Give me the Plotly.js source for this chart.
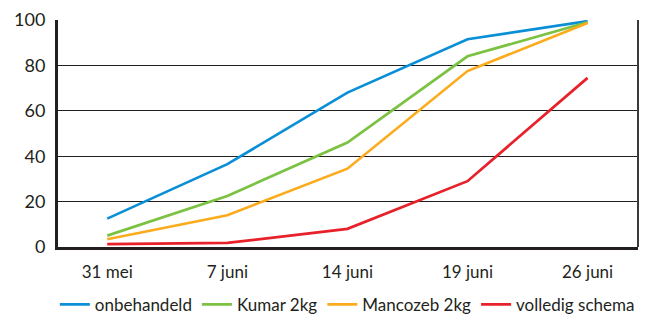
<!DOCTYPE html>
<html>
<head>
<meta charset="utf-8">
<script src="https://cdn.plot.ly/plotly-3.0.1.min.js"></script>
<style>html,body{margin:0;padding:0;background:#fff;}#chart{width:648px;height:315px;}</style>
</head>
<body>
<div id="chart"></div>
<script>
const categories = ["31 mei", "7 juni", "14 juni", "19 juni", "26 juni"];
const seriesNames = ["onbehandeld", "Kumar 2kg", "Mancozeb 2kg", "volledig schema"];
const onbehandeld = [12.5, 36.5, 68, 91.5, 99.5];
const kumar = [5, 22.5, 46, 84, 99];
const mancozeb = [3.4, 14, 34.5, 77.5, 98.7];
const volledig = [1.3, 1.8, 8, 29, 74.5];
const yTicks = [0, 20, 40, 60, 80, 100];
const colors = ["#0a8fd6", "#7cc242", "#fbab1c", "#e8202a"];

const values = [onbehandeld, kumar, mancozeb, volledig];
const traces = values.map((v, i) => ({
  type: "scatter",
  mode: "lines",
  x: categories,
  y: v,
  name: seriesNames[i],
  line: {color: colors[i], width: 2.7},
  hoverinfo: "skip"
}));

const layout = {
  width: 648, height: 315,
  margin: {l: 58, r: 10, t: 20, b: 68, autoexpand: false},
  paper_bgcolor: "#fff", plot_bgcolor: "#fff",
  font: {family: "Lato, 'DejaVu Sans', sans-serif", color: "#231f20"},
  showlegend: true,
  legend: {orientation: "h", x: 0.536, xref: "container", xanchor: "center",
           y: 0.032, yref: "container", yanchor: "middle",
           font: {size: 17}, itemwidth: 30, tracegroupgap: 0},
  xaxis: {
    type: "category", range: [-0.41, 4.42],
    showgrid: false, zeroline: false,
    showline: true, linecolor: "#231f20", linewidth: 3,
    ticks: "", tickfont: {size: 17}, ticklabelstandoff: 8
  },
  yaxis: {
    range: [0, 100], tickvals: yTicks, ticktext: yTicks.map(String),
    showgrid: true, gridcolor: "#231f20", gridwidth: 1,
    zeroline: false, showline: true, linecolor: "#231f20", linewidth: 3,
    ticks: "", tickfont: {size: 18}, ticklabelstandoff: 6
  },
  shapes: [{type: "line", xref: "paper", yref: "paper", x0: 1, x1: 1, y0: 0, y1: 1,
            line: {color: "#3a3a3a", width: 2}}]
};

Plotly.newPlot("chart", traces, layout, {displayModeBar: false, staticPlot: true});
</script>
</body>
</html>
